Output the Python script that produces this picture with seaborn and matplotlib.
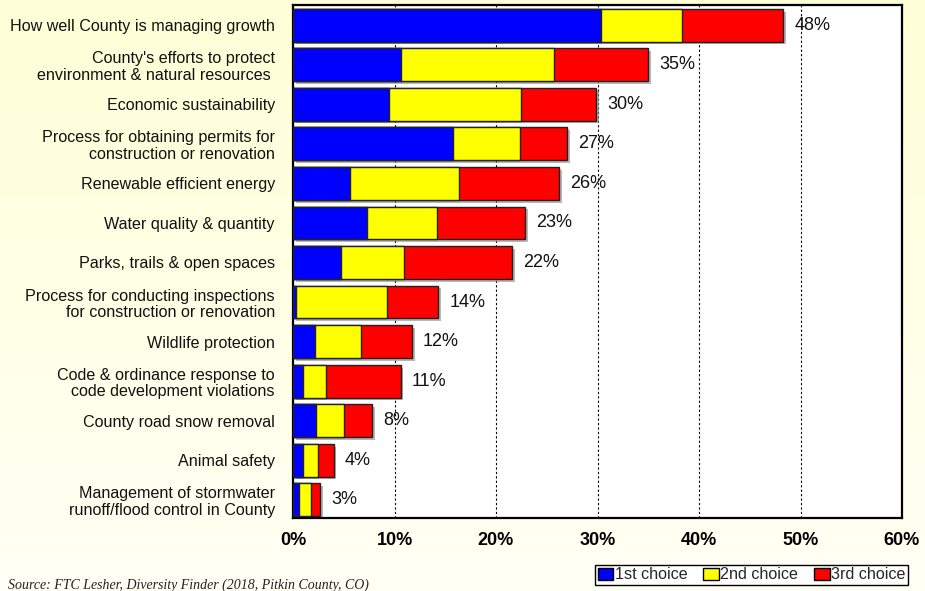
import numpy as np
import pandas as pd
import matplotlib
matplotlib.use("Agg")
import matplotlib.pyplot as plt
import matplotlib.patheffects as pe
from matplotlib.patches import Patch
from matplotlib.ticker import PercentFormatter
import seaborn as sns

categories = [
    "How well County is managing growth",
    "County's efforts to protect\nenvironment & natural resources ",
    "Economic sustainability",
    "Process for obtaining permits for\nconstruction or renovation",
    "Renewable efficient energy",
    "Water quality & quantity",
    "Parks, trails & open spaces",
    "Process for conducting inspections\nfor construction or renovation",
    "Wildlife protection",
    "Code & ordinance response to\ncode development violations",
    "County road snow removal",
    "Animal safety",
    "Management of stormwater\nrunoff/flood control in County",
]
first_choice = [30.3, 10.6, 9.5, 15.8, 5.6, 7.3, 4.7, 0.3, 2.2, 1.0, 2.3, 1.0, 0.6]
second_choice = [8.0, 15.1, 13.0, 6.6, 10.8, 6.9, 6.2, 9.0, 4.5, 2.3, 2.7, 1.5, 1.2]
third_choice = [10.0, 9.3, 7.4, 4.6, 9.8, 8.7, 10.7, 5.0, 5.0, 7.3, 2.8, 1.5, 0.9]
series_names = ["1st choice", "2nd choice", "3rd choice"]
series_colors = ["#0000FF", "#FFFF00", "#FF0000"]
x_ticks = [0, 10, 20, 30, 40, 50, 60]

df = pd.DataFrame({
    "item": categories,
    "first": first_choice,
    "second": second_choice,
    "third": third_choice,
})
df["upto_first"] = df["first"]
df["upto_second"] = df["first"] + df["second"]
df["total"] = df["upto_second"] + df["third"]

sns.set_theme(style="white")
plt.rcParams["font.family"] = ["Liberation Sans", "DejaVu Sans"]

fig = plt.figure(figsize=(9.25, 5.91), dpi=100)

# pale yellow backdrop fading towards white at the bottom
bg = fig.add_axes([0, 0, 1, 1], zorder=-10)
grad = np.linspace(0, 1, 256).reshape(-1, 1)
top_c = np.array([255, 255, 215]) / 255
bot_c = np.array([255, 255, 245]) / 255
img = top_c[None, None, :] * (1 - grad[:, :, None]) + bot_c[None, None, :] * grad[:, :, None]
bg.imshow(img, aspect="auto", extent=[0, 1, 0, 1])
bg.set_axis_off()

ax = fig.add_axes([293 / 925, 73 / 591, 609 / 925, 513 / 591])
ax.set_facecolor("white")

bar_w = 0.83
edge_kw = dict(edgecolor="#222222", linewidth=1.0)

# stacked bars: draw cumulative totals back to front
sns.barplot(data=df, x="total", y="item", orient="h", color=series_colors[2],
            saturation=1, width=bar_w, ax=ax, zorder=2, **edge_kw)
for p in ax.patches:
    p.set_path_effects([pe.SimplePatchShadow(offset=(2, -2), shadow_rgbFace="#888888", alpha=0.6),
                        pe.Normal()])
sns.barplot(data=df, x="upto_second", y="item", orient="h", color=series_colors[1],
            saturation=1, width=bar_w, ax=ax, zorder=3, **edge_kw)
sns.barplot(data=df, x="upto_first", y="item", orient="h", color=series_colors[0],
            saturation=1, width=bar_w, ax=ax, zorder=4, **edge_kw)

# total labels
for i, tot in enumerate(df["total"]):
    ax.annotate(f"{tot:.0f}%", xy=(tot, i), xytext=(8, 0), textcoords="offset points",
                ha="left", va="center", fontsize=13, color="#111111", zorder=6)

ax.set_xlim(0, 60)
ax.set_ylim(len(categories) - 1 + 0.46, -0.51)
ax.set_xticks(x_ticks)
ax.xaxis.set_major_formatter(PercentFormatter(decimals=0))
ax.set_xlabel("")
ax.set_ylabel("")

ax.grid(axis="x", color="black", linestyle=(0, (2, 2)), linewidth=0.8, zorder=1)
ax.grid(axis="y", visible=False)
ax.set_axisbelow(True)

ax.tick_params(axis="x", length=0, pad=10, labelsize=13, colors="black")
ax.tick_params(axis="y", length=0, pad=13, labelsize=11.6, colors="#111111")
for t in ax.get_xticklabels():
    t.set_fontweight("bold")
for t in ax.get_yticklabels():
    t.set_linespacing(1.15)
    t.set_multialignment("right")

for s in ax.spines.values():
    s.set_visible(True)
    s.set_color("black")
    s.set_linewidth(1.6)

handles = [Patch(facecolor=c, edgecolor="black", linewidth=1.0) for c in series_colors]
leg = fig.legend(handles, series_names, loc="upper right",
                 bbox_to_anchor=(908 / 925, 1 - 565 / 591), ncol=3, frameon=True,
                 fancybox=False, edgecolor="black", framealpha=1, fontsize=11.6,
                 handlelength=0.95, handleheight=0.75, handletextpad=0.1,
                 columnspacing=1.0, borderpad=0.15, borderaxespad=0)
leg.get_frame().set_linewidth(1.0)
leg.get_frame().set_facecolor("white")

fig.text(8 / 925, 1 - 579 / 591,
         "Source: FTC Lesher, Diversity Finder (2018, Pitkin County, CO)",
         ha="left", va="top", fontsize=10, style="italic",
         family=["Liberation Serif", "DejaVu Serif"], color="#222222")

fig.savefig("out.png", dpi=100)
